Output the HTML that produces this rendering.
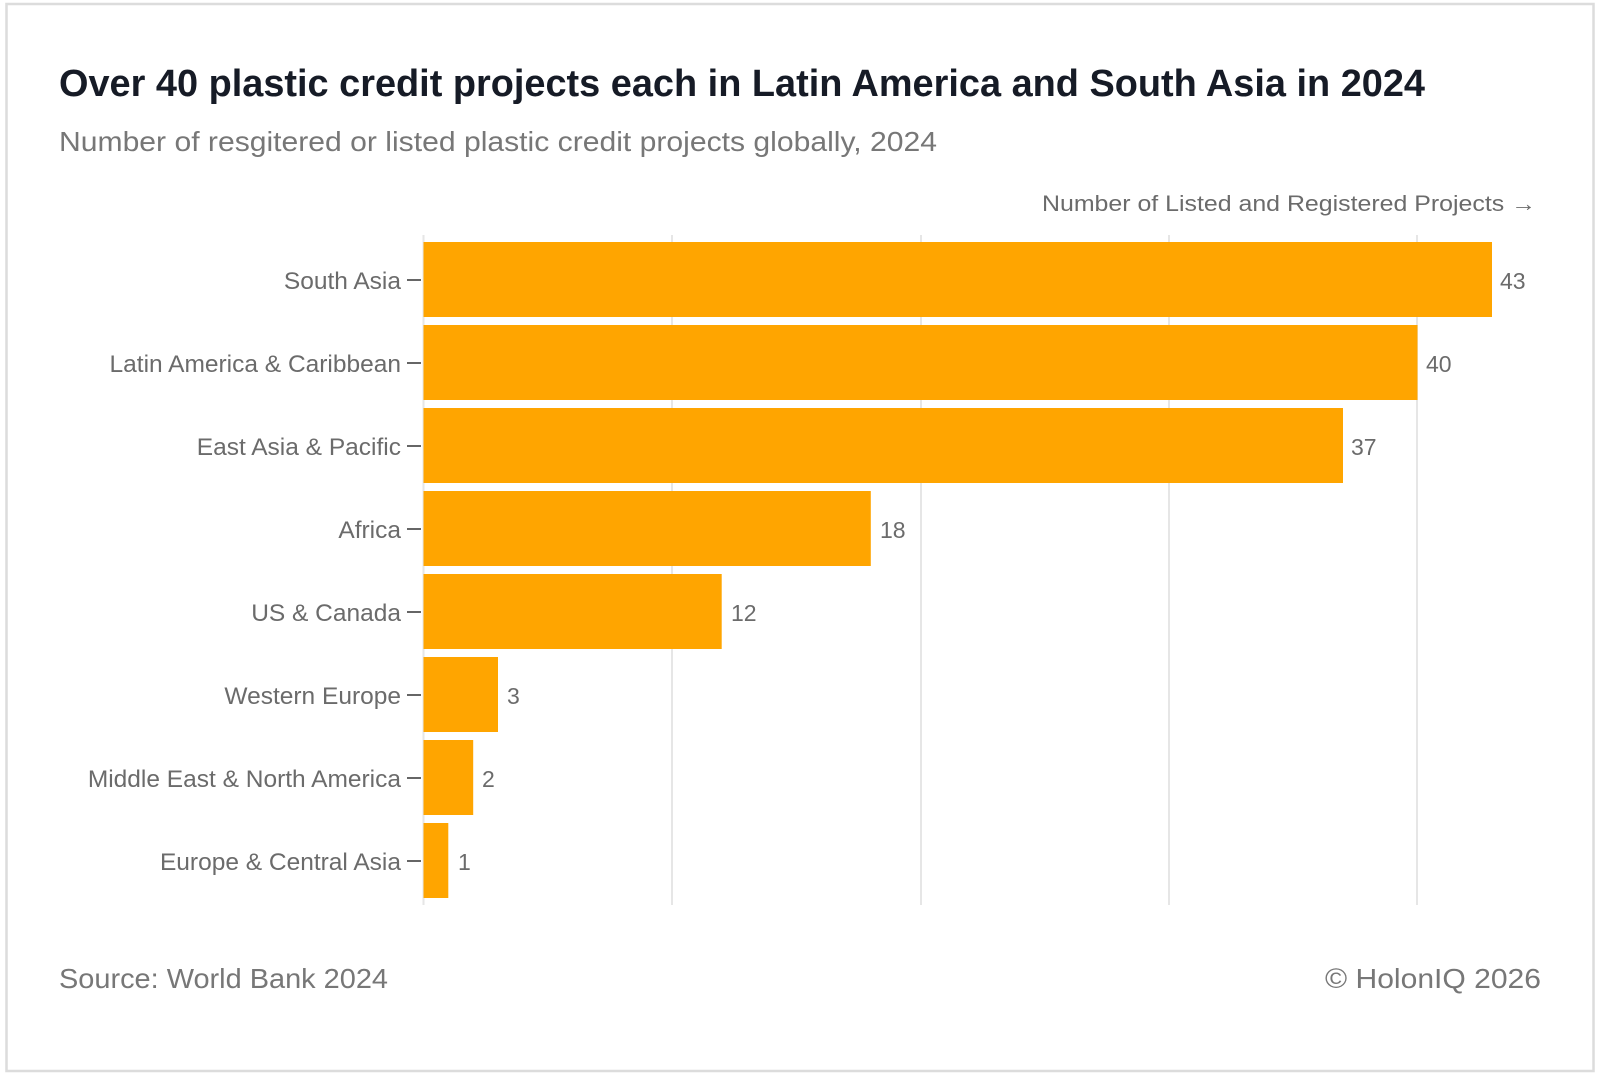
<!DOCTYPE html>
<html><head><meta charset="utf-8"><style>
html,body{margin:0;padding:0;background:#fff;}
svg{display:block;}
text{font-family:"Liberation Sans",sans-serif;}
</style></head><body>
<svg width="1600" height="1077" viewBox="0 0 1600 1077">
<rect x="0" y="0" width="1600" height="1077" fill="#fff"/>
<rect x="6.5" y="4" width="1587" height="1067" fill="#fff" stroke="#dcdcdc" stroke-width="2.5"/>
<text x="59" y="96" font-size="38" font-weight="bold" fill="#161b26" textLength="1366" lengthAdjust="spacingAndGlyphs">Over 40 plastic credit projects each in Latin America and South Asia in 2024</text>
<text x="59" y="151" font-size="28" fill="#777" textLength="878" lengthAdjust="spacingAndGlyphs">Number of resgitered or listed plastic credit projects globally, 2024</text>
<text x="1536" y="211" font-size="22" fill="#6b6b6b" text-anchor="end" textLength="494" lengthAdjust="spacingAndGlyphs">Number of Listed and Registered Projects →</text>
<g stroke="#e6e6e6" stroke-width="2">
<line x1="423.5" y1="235" x2="423.5" y2="905"/>
<line x1="672" y1="235" x2="672" y2="905"/>
<line x1="921" y1="235" x2="921" y2="905"/>
<line x1="1169" y1="235" x2="1169" y2="905"/>
<line x1="1417" y1="235" x2="1417" y2="905"/>
</g>
<g fill="#FFA500">
<rect x="423.5" y="242" width="1068.5" height="75"/>
<rect x="423.5" y="325" width="994" height="75"/>
<rect x="423.5" y="408" width="919.5" height="75"/>
<rect x="423.5" y="491" width="447.3" height="75"/>
<rect x="423.5" y="574" width="298.2" height="75"/>
<rect x="423.5" y="657" width="74.5" height="75"/>
<rect x="423.5" y="740" width="49.7" height="75"/>
<rect x="423.5" y="823" width="24.8" height="75"/>
</g>
<g stroke="#666" stroke-width="2">
<line x1="407" y1="280" x2="421" y2="280"/>
<line x1="407" y1="363" x2="421" y2="363"/>
<line x1="407" y1="446" x2="421" y2="446"/>
<line x1="407" y1="529" x2="421" y2="529"/>
<line x1="407" y1="612" x2="421" y2="612"/>
<line x1="407" y1="695" x2="421" y2="695"/>
<line x1="407" y1="778" x2="421" y2="778"/>
<line x1="407" y1="861" x2="421" y2="861"/>
</g>
<g font-size="24.5" fill="#6b6b6b" text-anchor="end">
<text x="401" y="289">South Asia</text>
<text x="401" y="372">Latin America &amp; Caribbean</text>
<text x="401" y="455">East Asia &amp; Pacific</text>
<text x="401" y="538">Africa</text>
<text x="401" y="621">US &amp; Canada</text>
<text x="401" y="704">Western Europe</text>
<text x="401" y="787">Middle East &amp; North America</text>
<text x="401" y="870">Europe &amp; Central Asia</text>
</g>
<g font-size="23" fill="#6b6b6b">
<text x="1500" y="289">43</text>
<text x="1426" y="372">40</text>
<text x="1351" y="455">37</text>
<text x="880" y="538">18</text>
<text x="731" y="621">12</text>
<text x="507" y="704">3</text>
<text x="482" y="787">2</text>
<text x="458" y="870">1</text>
</g>
<text x="59" y="988" font-size="28" fill="#777" textLength="329" lengthAdjust="spacingAndGlyphs">Source: World Bank 2024</text>
<text x="1541" y="988" font-size="28" fill="#777" text-anchor="end" textLength="216" lengthAdjust="spacingAndGlyphs">© HolonIQ 2026</text>
</svg>
</body></html>
